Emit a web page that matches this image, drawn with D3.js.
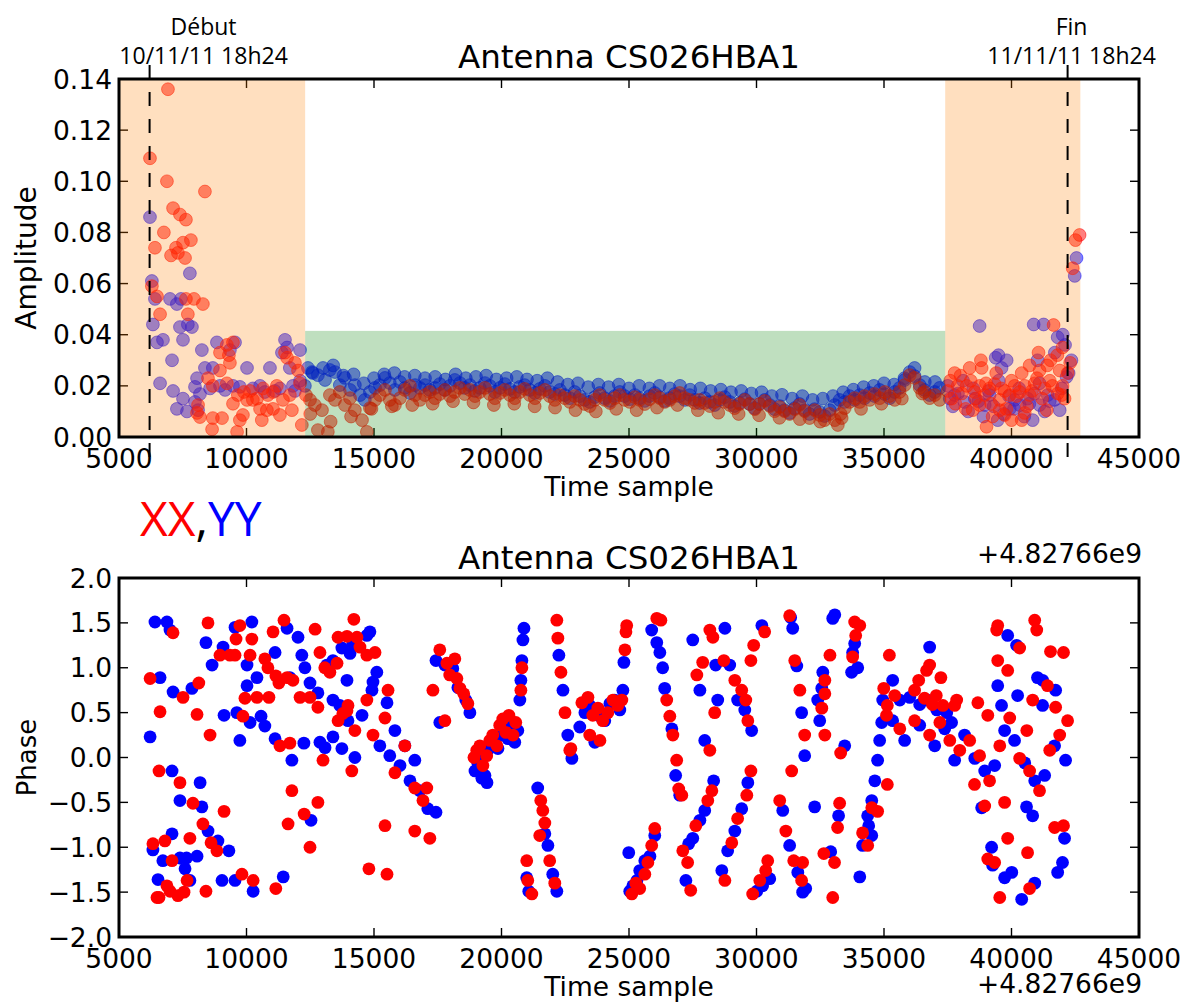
<!DOCTYPE html>
<html><head><meta charset="utf-8">
<script src="https://cdn.jsdelivr.net/npm/d3@7"></script>
<style>body{margin:0;background:#fff}svg{display:block}text{font-family:"DejaVu Sans",sans-serif}</style>
</head><body><div id="c"></div>
<script>
// ---------------- DATA ----------------
const xTicks = [5000,10000,15000,20000,25000,30000,35000,40000,45000];
const ampTicks = [0,0.02,0.04,0.06,0.08,0.10,0.12,0.14];
const phaseTicks = [-2,-1.5,-1,-0.5,0,0.5,1,1.5,2];
const titleText = "Antenna CS026HBA1";
const xLabel = "Time sample";
const offsetText = "+4.82766e9";
const startMark = {x:6200, l1:"Début", l2:"10/11/11 18h24"};
const endMark = {x:42200, l1:"Fin", l2:"11/11/11 18h24"};
const orangeSpans = [[5000,12300],[37400,42700]];
const greenSpan = [12300,37400,0.0415];

// amplitude XX (red)
const ampXX = [
[6215,0.109],[6920,0.136],[6880,0.100],[6760,0.080],[6410,0.074],[6290,0.059],[6490,0.055],[7120,0.0895],[7390,0.087],[7625,0.085],[7820,0.077],[7510,0.076],[7235,0.074],[7310,0.072],[7040,0.071],[7590,0.070],[8370,0.096],[7940,0.054],[8290,0.052],[7625,0.054],[6610,0.048],[7700,0.048],
[8960,0.033],[9230,0.036],[9470,0.037],[9310,0.032],[9350,0.029],[8960,0.026],[8490,0.023],[8680,0.020],[9230,0.021],[8680,0.0074],[9040,0.0074],[8650,0.003],[9630,0.002],[9740,0.0066],[10020,0.0145],[10140,0.018],[10250,0.0145],[10410,0.015],[10650,0.019],[10800,0.0105],[10530,0.011],[11040,0.011],[11310,0.0086],[11190,0.020],[11590,0.031],[11510,0.033],[11900,0.029],[12020,0.026],[12100,0.021],[11780,0.0105],[12170,0.0047],[8100,0.0125],[8060,0.0094],[8175,0.0078],[9470,0.013],[9660,0.0164],[9900,0.0176],[10840,0.0164],[11040,0.0176],[11700,0.0164],[11430,0.0145],[10600,0.0066],[9860,0.0086],
[12330,0.0164],[12490,0.0145],[12680,0.0125],[12800,0.0027],[12960,0.0105],[13190,0.0020],[13270,0.0164],[13470,0.0145],[13660,0.0176],[13860,0.0125],[14060,0.0152],[14250,0.0105],[14720,0.0020],[14530,0.0066],[14840,0.0113],[15040,0.0145],[15230,0.0164],[15430,0.0184],[15620,0.0145],[15820,0.0125],[16020,0.0152],[16210,0.0184],[16410,0.0200],[16610,0.0164],[16800,0.0145],
[17000,0.0164],[17190,0.0176],[17390,0.0152],[17580,0.0168],[17780,0.0184],[17980,0.0160],[18170,0.0176],[18370,0.0192],[18560,0.0168],[18760,0.0184],[18960,0.0160],[19150,0.0176],[19350,0.0192],[19540,0.0168],[19740,0.0152],[19940,0.0172],[20130,0.0184],[20330,0.0164],[20520,0.0152],[20720,0.0176],[20910,0.0188],[21110,0.0164],[21310,0.0152],[21500,0.0172],[21700,0.0184],[21890,0.0160],[22090,0.0145],[22290,0.0164],
[22480,0.0152],[22680,0.0137],[22870,0.0160],[23070,0.0145],[23260,0.0129],[23460,0.0121],[23660,0.0145],[23850,0.0164],[24050,0.0145],[24250,0.0133],[24440,0.0152],[24640,0.0164],[24830,0.0145],[25030,0.0137],[25230,0.0156],[25420,0.0145],[25620,0.0129],[25810,0.0148],[26010,0.0164],[26210,0.0152],[26400,0.0137],[26600,0.0145],[26790,0.0160],[26990,0.0172],[27190,0.0152],[27380,0.0145],[27580,0.0133],[27770,0.0145],
[27970,0.0133],[28170,0.0121],[28360,0.0137],[28560,0.0152],[28750,0.0137],[28950,0.0125],[29140,0.0113],[29340,0.0129],[29540,0.0145],[29730,0.0129],[29930,0.0109],[30120,0.0129],[30320,0.0141],[30520,0.0121],[30710,0.0101],[30910,0.0117],[31100,0.0101],[31300,0.0090],[31500,0.0109],[31690,0.0125],[31890,0.0101],[32080,0.0074],[32280,0.0105],[32480,0.0086],[32670,0.0066],[32870,0.0090],
[33070,0.0066],[33190,0.0047],[33340,0.0074],[33460,0.0113],[33650,0.0137],[33850,0.0152],[34050,0.0137],[34240,0.0160],[34440,0.0145],[34630,0.0168],[34830,0.0152],[35030,0.0176],[35220,0.0160],[35420,0.0145],[35610,0.0176],[35810,0.0203],[36010,0.0242],[36200,0.0231],[36400,0.0192],[36590,0.0176],[36790,0.0152],[36990,0.0164],[37180,0.0145],
[12500,0.0090],[13300,0.0060],[14100,0.0080],[14900,0.0110],[15700,0.0120],[16500,0.0125],[17300,0.0130],[18100,0.0140],[18900,0.0135],[19700,0.0125],[20500,0.0130],[21300,0.0120],[22100,0.0115],[22900,0.0105],[23700,0.0100],[24500,0.0110],[25300,0.0105],[26100,0.0115],[26900,0.0125],[27700,0.0105],[28500,0.0095],[29300,0.0090],[30100,0.0085],[30900,0.0075],[31700,0.0070],[32500,0.0060],[33300,0.0090],[34100,0.0110],[34900,0.0130],[35700,0.0150],[36500,0.0170],
[37770,0.025],[38360,0.027],[38830,0.027],[39020,0.004],[39260,0.008],[40000,0.0066],[40400,0.0066],[38480,0.0105],[39540,0.0145],[41380,0.0105],[41970,0.0164],[41650,0.0438],[41060,0.033],[42000,0.035],[41530,0.030],[40710,0.028],[42200,0.025],[41100,0.026],[41890,0.026],[42670,0.079],[42510,0.077],[42400,0.066],
[37500,0.018],[37650,0.015],[37890,0.020],[38050,0.017],[38240,0.020],[38560,0.0176],[38750,0.020],[38950,0.0164],[39140,0.019],[39340,0.0207],[39730,0.018],[39930,0.0164],[40120,0.020],[40320,0.0176],[40520,0.020],[40710,0.0164],[40910,0.021],[41300,0.019],[41500,0.022],[41810,0.017],[42080,0.015],[39540,0.0105],[39730,0.0086],[40520,0.0094],[38750,0.0125],
[37600,0.022],[37800,0.013],[38000,0.024],[38200,0.011],[38400,0.022],[38600,0.015],[38800,0.030],[39000,0.021],[39200,0.013],[39400,0.025],[39600,0.019],[39800,0.011],[40000,0.022],[40200,0.016],[40400,0.025],[40600,0.012],[40800,0.018],[41000,0.023],[41200,0.015],[41400,0.028],[41600,0.020],[41800,0.032],[42000,0.020],[42300,0.029]
];
// amplitude YY (blue)
const ampYY = [
[6215,0.086],[6290,0.061],[6410,0.054],[7000,0.054],[7430,0.054],[7780,0.064],[7270,0.052],[7700,0.044],[7390,0.043],
[6330,0.044],[6490,0.037],[6725,0.038],[6610,0.021],[7080,0.030],[7120,0.018],[7270,0.011],[7510,0.038],[7510,0.015],[7665,0.010],[7860,0.043],[8250,0.034],[8370,0.027],[8060,0.023],[7980,0.0196],[8175,0.0168],[8680,0.027],[8840,0.037],[9350,0.034],[9550,0.037],[10020,0.027],[9470,0.020],[10250,0.019],[10920,0.027],[11510,0.038],[11590,0.035],[11390,0.033],[12100,0.034],[12100,0.022],[11820,0.020],[11700,0.027],
[8570,0.019],[8960,0.020],[9160,0.0184],[9740,0.0196],[10530,0.020],[10720,0.0176],[11110,0.018],[11310,0.019],[11900,0.018],[12290,0.020],[8100,0.0105],[7980,0.0137],
[12410,0.0270],[12570,0.0254],[12800,0.0242],[13080,0.0223],[13270,0.0262],[13470,0.0254],[13660,0.0203],[13860,0.0231],[14060,0.0184],[14250,0.0203],[14450,0.0164],[14640,0.0145],[14840,0.0176],[15040,0.0192],[15230,0.0203],[15430,0.0231],[15620,0.0211],[15820,0.0184],[16020,0.0215],[16210,0.0192],[16410,0.0172],[16610,0.0203],[16800,0.0192],
[17000,0.0203],[17190,0.0184],[17390,0.0192],[17580,0.0207],[17780,0.0184],[17980,0.0200],[18170,0.0223],[18370,0.0211],[18560,0.0192],[18760,0.0203],[18960,0.0180],[19150,0.0192],[19350,0.0211],[19540,0.0200],[19740,0.0176],[19940,0.0192],[20130,0.0207],[20330,0.0188],[20520,0.0176],[20720,0.0196],[20910,0.0203],[21110,0.0184],[21310,0.0172],[21500,0.0188],[21700,0.0200],[21890,0.0176],[22090,0.0168],[22290,0.0184],
[22480,0.0164],[22680,0.0152],[22870,0.0176],[23070,0.0160],[23260,0.0145],[23460,0.0137],[23660,0.0156],[23850,0.0172],[24050,0.0152],[24250,0.0141],[24440,0.0160],[24640,0.0176],[24830,0.0160],[25030,0.0148],[25230,0.0164],[25420,0.0152],[25620,0.0141],[25810,0.0160],[26010,0.0172],[26210,0.0156],[26400,0.0141],[26600,0.0152],[26790,0.0168],[26990,0.0160],[27190,0.0145],[27380,0.0164],[27580,0.0145],[27770,0.0133],
[27970,0.0152],[28170,0.0137],[28360,0.0125],[28560,0.0145],[28750,0.0156],[28950,0.0137],[29140,0.0121],[29340,0.0133],[29540,0.0148],[29730,0.0129],[29930,0.0113],[30120,0.0129],[30320,0.0145],[30520,0.0125],[30710,0.0109],[30910,0.0121],[31100,0.0105],[31300,0.0094],[31500,0.0113],[31690,0.0129],[31890,0.0105],[32080,0.0090],[32280,0.0109],[32480,0.0098],[32670,0.0082],[32870,0.0105],
[33070,0.0125],[33260,0.0145],[33460,0.0137],[33650,0.0160],[33850,0.0145],[34050,0.0164],[34240,0.0152],[34440,0.0172],[34630,0.0160],[34830,0.0184],[35030,0.0168],[35220,0.0152],[35420,0.0176],[35610,0.0192],[35810,0.0223],[36010,0.0254],[36200,0.0238],[36400,0.0203],[36590,0.0184],[36790,0.0164],[36990,0.0176],[37180,0.0192],
[12600,0.0250],[13000,0.0270],[13400,0.0280],[13800,0.0240],[14200,0.0245],[14600,0.0210],[15000,0.0230],[15400,0.0245],[15800,0.0250],[16200,0.0235],[16600,0.0240],[17000,0.0230],[17400,0.0235],[17800,0.0225],[18200,0.0245],[18600,0.0230],[19000,0.0235],[19400,0.0240],[19800,0.0225],[20200,0.0230],[20600,0.0235],[21000,0.0225],[21400,0.0220],[21800,0.0230],[22200,0.0215],[22600,0.0205],[23000,0.0210],[23400,0.0195],[23800,0.0205],[24200,0.0195],[24600,0.0205],[25000,0.0190],[25400,0.0200],[25800,0.0190],[26200,0.0200],[26600,0.0190],[27000,0.0200],[27400,0.0185],[27800,0.0190],[28200,0.0180],[28600,0.0185],[29000,0.0175],[29400,0.0180],[29800,0.0170],[30200,0.0175],[30600,0.0160],[31000,0.0165],[31400,0.0150],[31800,0.0160],[32200,0.0145],[32600,0.0150],[33000,0.0160],[33400,0.0175],[33800,0.0185],[34200,0.0195],[34600,0.0200],[35000,0.0210],[35400,0.0205],[35800,0.0230],[36200,0.0270],[36600,0.0215],[37000,0.0215],
[38750,0.0434],[40870,0.044],[41260,0.044],[41810,0.039],[42010,0.040],[39490,0.032],[39380,0.031],[39810,0.030],[39610,0.027],[41020,0.030],[42240,0.025],[42160,0.0235],[41970,0.019],[40830,0.0066],[39460,0.0066],[37580,0.015],[42480,0.063],[42550,0.070],
[37770,0.0164],[38160,0.0137],[38560,0.015],[38950,0.0125],[39140,0.0164],[39930,0.011],[40120,0.0145],[40320,0.0125],[40630,0.015],[41100,0.0125],[41420,0.0164],[41690,0.0145],[41890,0.0105],
[37500,0.020],[37700,0.012],[37900,0.017],[38100,0.022],[38300,0.010],[38500,0.019],[38700,0.014],[38900,0.008],[39100,0.018],[39300,0.012],[39500,0.022],[39700,0.009],[39900,0.016],[40100,0.011],[40300,0.019],[40500,0.008],[40700,0.013],[40900,0.017],[41100,0.021],[41300,0.010],[41500,0.014],[41700,0.033],[42100,0.036],[42350,0.030]
];
// phase YY (blue)
const phaseYY = [
[6220,0.23],[6410,1.51],[6880,1.51],[7000,1.42],[6610,0.89],[7120,0.73],[7860,0.77],[8410,1.28],[8650,1.03],[9080,1.23],[9550,1.45],[10210,1.51],[10020,1.03],[10020,0.80],[10410,0.89],[10570,0.46],[9120,0.47],[9620,0.50],
[6330,-1.03],[6530,-1.36],[6720,-1.15],[7080,-0.85],[7390,-1.12],[7650,-1.12],[7590,-1.24],[8060,-1.10],[7780,-1.37],[8250,-0.55],[8490,-0.82],[8880,-0.93],[9040,-1.37],[9310,-1.04],[9550,-1.37],[10260,-1.49],[11440,-1.33],[12530,-0.70],[7390,-0.48],[7080,-0.15],[8180,-0.28],
[11120,1.17],[11590,1.44],[12020,1.34],[12170,1.14],[12290,1.00],[12490,0.83],[12800,0.72],[13150,1.03],[13390,1.08],[13740,1.22],[14170,1.27],[14720,1.36],[14840,1.40],[14960,0.84],[15110,0.95],[15510,0.61],[14060,1.16],[13940,0.86],[13660,0.58],[13390,0.64],[11700,0.89],
[10720,0.35],[11120,0.21],[11780,-0.03],[12250,0.16],[12880,0.17],[13080,0.11],[13390,0.23],[13740,0.10],[13980,0.41],[14250,0.00],[14530,0.47],[14920,0.75],[15230,0.13],[15620,0.02],[16020,-0.09],[16410,-0.26],[16800,-0.37],[17110,-0.57],[17430,-0.61],[15820,0.30],[16210,0.13],[16600,-0.03],[9740,0.19],[10140,0.39],
[17430,1.08],[17780,1.03],[18090,0.99],[18290,0.78],[18600,0.64],[18760,0.50],[17580,0.39],[18960,-0.15],[19070,-0.06],[19230,0.00],[19350,-0.20],[19460,0.08],[19620,0.13],[19740,0.19],[19860,0.10],[20010,0.25],[20130,0.32],[20250,0.21],[20410,0.36],[20520,0.17],[20640,0.30],[19230,-0.23],[19430,-0.28],
[20720,0.64],[20760,0.86],[20800,1.08],[20840,1.31],[20880,1.44],
[20990,-1.34],[21070,-1.49],[21420,-0.34],[21700,-0.85],[21820,-0.98],[22010,-1.30],[22170,-1.49],
[22250,1.14],[22410,0.75],[22600,0.25],[22760,-0.01],
[23070,0.34],[23270,0.50],[23460,0.58],[23660,0.53],[23860,0.46],[24050,0.41],[24250,0.60],[24440,0.64],[24640,0.53],[23660,0.17],[24800,1.06],[24760,0.75],
[25030,-1.49],[25150,-1.43],[25310,-1.37],[25420,-1.26],[25620,-1.15],[25820,-1.10],[26010,-0.87],[24990,-1.06],
[25890,1.42],[26090,1.28],[26210,1.17],[26320,1.00],[26400,0.77],[26680,0.32],[26990,-0.42],[26830,-0.20],
[27340,-0.96],[27500,-0.90],[27780,-0.70],[27970,-0.59],[28320,-0.26],[27230,-1.37],
[27500,1.31],[27780,0.75],[28400,1.03],[28480,0.64],[27970,0.19],
[28640,-1.26],[28870,-1.04],[29150,-0.82],[29420,-0.57],[29660,-0.28],[30010,-1.49],[30240,-1.43],[30520,-1.35],
[28760,1.44],[28950,1.03],[29260,0.64],[29540,0.53],[29810,0.30],[30210,1.47],
[31340,1.56],[31420,1.44],[31580,1.02],[31770,0.50],[31890,0.02],[31030,-0.59],[31300,-0.98],[31620,-1.28],[31930,-1.46],
[32990,1.55],[33070,1.59],[33850,1.27],[33770,1.17],[33970,1.00],[33730,0.95],[32600,0.95],[32560,0.77],[32400,0.64],[32280,-0.55],[33220,-0.65],[32910,-1.05],[34050,-1.33],[34160,-0.98],[34520,-0.87],[34400,-0.76],[31810,-1.50],[32480,0.41],[33460,0.13],[34360,-0.65],[34520,-0.48],[34640,-0.26],[34750,-0.03],[34830,0.19],[34910,0.39],
[36790,1.23],[35340,0.86],[34950,0.64],[35620,0.64],[36010,0.67],[36400,0.59],[36710,0.64],[37070,0.53],[37460,0.50],[37650,0.39],[39460,0.80],[39610,0.58],[40240,0.69],[39850,1.36],[40200,1.25],[41020,0.89],[41220,0.86],[41730,0.75],[41220,0.58],
[35340,0.41],[35810,0.19],[36400,0.36],[36990,0.13],[37380,0.32],[37770,-0.03],[38160,0.25],[38560,-0.01],[38950,-0.15],[39340,-0.09],[39730,0.30],[40120,0.19],[40520,-0.06],[40910,-0.26],[41300,-0.20],[41690,0.13],[42120,-0.03],
[38830,-0.56],[40590,-0.55],[40830,-0.65],[42080,-0.90],[39220,-1.00],[39260,-1.20],[42000,-1.17],[41810,-1.28],[39730,-1.34],[40010,-1.28],[40910,-1.40],[40400,-1.58]
];
// phase XX (red)
const phaseXX = [
[6220,0.88],[7120,1.39],[7510,0.67],[8130,0.83],[8490,1.50],[6610,0.51],[8060,0.48],[8960,1.14],[9350,1.14],[9550,1.14],[9740,1.47],[9590,1.32],[10210,1.32],[10140,1.14],[9940,0.66],[10410,0.67],[10880,0.67],[11040,1.40],[10720,1.10],[10840,1.00],[11150,0.91],[11470,1.53],[11270,0.83],[11590,0.89],[11820,0.86],[12100,0.67],[12490,0.67],[12690,1.43],[12880,1.17],[13070,1.00],[13270,0.95],[13550,1.05],[13590,1.34],[13940,1.35],[13980,0.58],[14210,1.54],[14330,1.34],[14450,1.23],[14720,1.14],[15040,1.17],[15550,0.75],[12800,0.56],[13940,0.52],[13780,0.49],
[6330,-0.96],[6490,-1.56],[6570,-1.56],[6800,-0.93],[6880,-1.43],[7000,-1.49],[7080,-1.15],[7310,-1.54],[7550,-1.50],[7670,-1.37],[7780,-0.90],[7900,-0.51],[8290,-0.74],[8410,-1.49],[8610,-0.95],[8840,-1.04],[9120,-0.60],[9820,-1.30],[10260,-1.37],[11150,-1.46],[11630,-0.74],[12260,-0.63],[12490,-1.00],[12800,-0.50],[14800,-1.24],[15430,-0.76],[15510,-1.30],
[6570,-0.15],[7390,-0.28],[8570,0.25],[9860,0.46],[11310,0.13],[11700,0.16],[11780,-0.37],[13000,-0.03],[13590,0.41],[14130,-0.15],[14250,0.30],[14720,0.64],[14960,0.25],[15430,0.44],[15820,-0.17],[16210,0.13],[16600,-0.34],[16920,-0.48],[17070,-0.34],[17190,-0.90],[16600,-0.82],
[17310,0.75],[17580,1.20],[17860,1.05],[17970,0.92],[18170,1.10],[18250,0.88],[18370,0.77],[18520,0.71],[18680,0.60],[17780,0.41],[18920,0.00],[19030,0.08],[19150,0.13],[19270,-0.09],[19420,0.02],[19540,0.19],[19660,0.25],[19820,0.13],[19930,0.36],[20050,0.43],[20170,0.28],[20290,0.47],[20450,0.25],[20560,0.39],[20760,0.75],[20800,1.00],
[20990,-1.15],[21030,-1.37],[21190,-1.52],[21540,-0.48],[21620,-0.59],[21500,-0.87],[21890,-1.15],[22090,-1.40],[21700,-0.73],
[22170,1.53],[22210,1.33],[22330,0.95],[22490,0.50],[22680,0.08],
[23150,0.61],[23390,0.67],[23580,0.47],[23780,0.55],[23970,0.41],[24170,0.50],[24370,0.64],[24560,0.58],[24720,0.64],[23460,0.25],[23860,0.19],[22720,0.10],
[24910,1.47],[24880,1.40],[24840,1.20],
[25110,-1.52],[25270,-1.40],[25420,-1.46],[25620,-1.30],[25740,-1.17],[25890,-0.98],[26010,-0.79],
[26090,1.55],[26250,1.53],[26480,0.64],[26600,0.46],[26720,0.25],[26870,-0.03],[26950,-0.35],[27070,-0.42],
[27110,-1.04],[27300,-1.17],[27620,-0.76],[28090,-0.48],[28250,-0.37],[27420,-1.48],
[27660,0.92],[27890,1.06],[28170,1.42],[28290,1.34],[28360,0.50],[28170,0.08],
[28760,-1.37],[29030,-0.95],[29260,-0.68],[29620,-0.42],[29780,-0.15],[29850,-1.52],[30130,-1.37],[30360,-1.26],[30440,-1.15],
[28720,1.08],[29150,0.86],[29420,0.75],[29580,0.64],[29660,0.41],[29780,1.08],[29890,1.25],[30320,1.40],
[31300,1.58],[31500,1.08],[31700,0.75],[31890,0.25],[30910,-0.48],[31150,-0.82],[31460,-1.15],[31770,-1.37],[31380,-0.15],
[33850,1.51],[34050,1.47],[33890,1.36],[33770,1.12],[32880,1.14],[32680,0.86],[32680,0.71],[32560,0.55],[33260,-0.51],[33180,-0.78],[32640,-1.07],[33060,-1.17],[32990,-1.56],[34160,-0.84],[34360,-0.98],[34520,-0.56],[31810,-1.17],[32680,0.25],[33300,0.05],
[35210,1.14],[36790,1.03],[36670,0.97],[37230,0.89],[34990,0.77],[35130,0.58],[35420,0.69],[36200,0.75],[36360,0.86],[36590,0.66],[36900,0.59],[37050,0.69],[37310,0.58],[37770,0.58],[37850,0.64],[38680,0.61],[39460,1.08],[39850,0.97],[39420,1.42],[39460,1.47],[40320,1.22],[40910,1.53],[40990,1.42],[41410,0.80],[41530,1.18],[42040,1.17],[40830,0.64],[41730,0.56],[39070,0.47],
[35100,0.47],[35620,0.32],[36200,0.41],[36790,0.25],[37190,0.39],[37580,0.19],[37970,0.08],[38360,0.19],[38750,0.02],[39140,-0.26],[39540,0.13],[39930,0.44],[40320,-0.01],[40710,-0.15],[41100,-0.37],[41500,0.08],[41890,0.25],[42200,0.41],[38550,-0.30],[40600,0.30],
[38950,-0.54],[39730,-0.50],[41690,-0.78],[42040,-0.76],[39850,-0.90],[39070,-1.13],[39340,-1.17],[40630,-1.06],[40710,-1.46],[39540,-1.56],[35130,-0.30],[34750,-0.60]
];

// ---------------- DRAW ----------------
const W=1186,H=1002;
const svg=d3.select("#c").append("svg").attr("width",W).attr("height",H);
svg.append("rect").attr("width",W).attr("height",H).attr("fill","#fff");
const L=119,R=1139;
const x=d3.scaleLinear().domain([5000,45000]).range([L,R]);
const yA=d3.scaleLinear().domain([0,0.14]).range([437,79]);
const yP=d3.scaleLinear().domain([-2,2]).range([937,578]);
const tickLen=9, fs=26.5;
const fmtA=d3.format(".2f");
const fmtP=v=>d3.format(".1f")(v).replace("-","\u2212");

function ticks(g,y,yt,top,bot){
  const tg=g.append("g").attr("stroke","#000").attr("stroke-width",1.4);
  xTicks.forEach(v=>{
    tg.append("line").attr("x1",x(v)).attr("x2",x(v)).attr("y1",bot).attr("y2",bot-tickLen);
    tg.append("line").attr("x1",x(v)).attr("x2",x(v)).attr("y1",top).attr("y2",top+tickLen);
  });
  yt.forEach(v=>{
    tg.append("line").attr("x1",L).attr("x2",L+tickLen).attr("y1",y(v)).attr("y2",y(v));
    tg.append("line").attr("x1",R).attr("x2",R-tickLen).attr("y1",y(v)).attr("y2",y(v));
  });
}
function labels(g,y,yt,fmt,bot){
  xTicks.forEach(v=>g.append("text").attr("x",x(v)).attr("y",bot+31).attr("text-anchor","middle").attr("font-size",fs).text(v));
  yt.forEach(v=>g.append("text").attr("x",L-7).attr("y",y(v)+9.5).attr("text-anchor","end").attr("font-size",fs).text(fmt(v)));
}

// ---- Top panel ----
const gT=svg.append("g");
const defs=svg.append("defs");
defs.append("clipPath").attr("id","clipT").append("rect").attr("x",L).attr("y",79).attr("width",R-L).attr("height",437-79);
defs.append("clipPath").attr("id","clipB").append("rect").attr("x",L).attr("y",578).attr("width",R-L).attr("height",937-578);
ticks(gT,yA,ampTicks,79,437);
const dT=gT.append("g").attr("clip-path","url(#clipT)");
[[ampYY,"#0000ff"],[ampXX,"#ff0000"]].forEach(([data,c])=>{
  dT.append("g").selectAll("circle").data(data).join("circle")
    .attr("cx",d=>x(d[0])).attr("cy",d=>yA(d[1])).attr("r",6.4)
    .attr("fill",c).attr("fill-opacity",0.5).attr("stroke",c).attr("stroke-opacity",0.5).attr("stroke-width",1);
});
orangeSpans.forEach(s=>gT.append("rect").attr("x",x(s[0])).attr("width",x(s[1])-x(s[0])).attr("y",yA(0.14)).attr("height",yA(0)-yA(0.14)).attr("fill","rgb(255,127,0)").attr("fill-opacity",0.25));
gT.append("rect").attr("x",x(greenSpan[0])).attr("width",x(greenSpan[1])-x(greenSpan[0])).attr("y",yA(greenSpan[2])).attr("height",yA(0)-yA(greenSpan[2])).attr("fill","rgb(0,128,0)").attr("fill-opacity",0.25);
[startMark,endMark].forEach(m=>gT.append("line").attr("x1",x(m.x)).attr("x2",x(m.x)).attr("y1",65).attr("y2",462).attr("stroke","#000").attr("stroke-width",2).attr("stroke-dasharray","14,13"));
gT.append("rect").attr("x",L).attr("y",79).attr("width",R-L).attr("height",437-79).attr("fill","none").attr("stroke","#000").attr("stroke-width",3);
labels(gT,yA,ampTicks,fmtA,437);
gT.append("text").attr("x",(L+R)/2).attr("y",68).attr("text-anchor","middle").attr("font-size",32.5).text(titleText);
gT.append("text").attr("x",(L+R)/2).attr("y",496).attr("text-anchor","middle").attr("font-size",26.5).text(xLabel);
gT.append("text").attr("transform",`translate(36,${(79+437)/2}) rotate(-90)`).attr("text-anchor","middle").attr("font-size",28).text("Amplitude");
[[startMark,54],[endMark,4]].forEach(([m,dx])=>{
  gT.append("text").attr("x",x(m.x)+dx).attr("y",35).attr("text-anchor","middle").attr("font-size",23).attr("style","font-family:'Open Sans',sans-serif").text(m.l1);
  gT.append("text").attr("x",x(m.x)+dx).attr("y",64).attr("text-anchor","middle").attr("font-size",23).attr("style","font-family:'Open Sans',sans-serif").text(m.l2);
});

// legend text
const lg=svg.append("text").attr("x",140).attr("y",536).attr("font-size",48).attr("style","font-family:'Open Sans',sans-serif");
lg.append("tspan").attr("fill","#ff0000").text("XX");
lg.append("tspan").attr("fill","#000").text(",");
lg.append("tspan").attr("fill","#0000ff").text("YY");

// ---- Bottom panel ----
const gB=svg.append("g");
ticks(gB,yP,phaseTicks,578,937);
const dB=gB.append("g").attr("clip-path","url(#clipB)");
[[phaseYY,"#0000ff"],[phaseXX,"#ff0000"]].forEach(([data,c])=>{
  dB.append("g").selectAll("circle").data(data).join("circle")
    .attr("cx",d=>x(d[0])).attr("cy",d=>yP(d[1])).attr("r",6.4).attr("fill",c);
});
gB.append("rect").attr("x",L).attr("y",578).attr("width",R-L).attr("height",937-578).attr("fill","none").attr("stroke","#000").attr("stroke-width",3);
labels(gB,yP,phaseTicks,fmtP,937);
gB.append("text").attr("x",(L+R)/2).attr("y",569).attr("text-anchor","middle").attr("font-size",32.5).text(titleText);
gB.append("text").attr("x",1142).attr("y",563).attr("text-anchor","end").attr("font-size",26.5).text(offsetText);
gB.append("text").attr("x",1142).attr("y",993).attr("text-anchor","end").attr("font-size",26.5).text(offsetText);
gB.append("text").attr("x",(L+R)/2).attr("y",996).attr("text-anchor","middle").attr("font-size",26.5).text(xLabel);
gB.append("text").attr("transform",`translate(36,${(578+937)/2}) rotate(-90)`).attr("text-anchor","middle").attr("font-size",26).text("Phase");
</script></body></html>
